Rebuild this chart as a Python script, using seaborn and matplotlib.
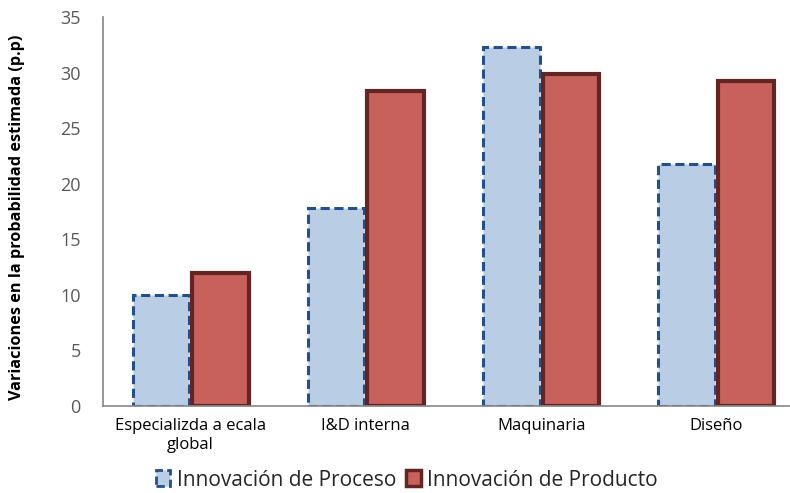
import matplotlib
matplotlib.use("Agg")
import matplotlib.pyplot as plt
import seaborn as sns
import pandas as pd
from matplotlib.patches import Patch

categorias = ["Especializda a ecala\nglobal", "I&D interna", "Maquinaria", "Diseño"]
proceso = [10.0, 17.8, 32.3, 21.8]
producto = [12.0, 28.3, 29.9, 29.2]
series = ["Innovación de Proceso", "Innovación de Producto"]
y_ticks = [0, 5, 10, 15, 20, 25, 30, 35]

df = pd.DataFrame({
    "categoria": categorias * 2,
    "valor": proceso + producto,
    "serie": [series[0]] * len(categorias) + [series[1]] * len(categorias),
})

sns.set_theme(style="white")
plt.rcParams["font.family"] = ["Open Sans", "DejaVu Sans"]

fill = {series[0]: "#B9CDE5", series[1]: "#C8605C"}
edge = {series[0]: "#24508A", series[1]: "#632523"}

fig = plt.figure(figsize=(7.9, 4.93), dpi=100)
ax = fig.add_axes([0.1304, 0.1765, 0.8696, 0.789])

sns.barplot(data=df, x="categoria", y="valor", hue="serie", order=categorias,
            hue_order=series, palette=fill, width=0.68, gap=0.05,
            saturation=1, legend=False, ax=ax)

n = len(categorias)
for i, bar in enumerate(ax.patches[:2 * n]):
    s = series[0] if i < n else series[1]
    bar.set_edgecolor(edge[s])
    if s == series[0]:
        bar.set_linewidth(2.2)
        bar.set_linestyle((0, (3, 1.5)))
    else:
        bar.set_linewidth(3)

ax.set_ylim(0, 35)
ax.set_yticks(y_ticks)
ax.set_xlim(-0.5, 3.42)
ax.tick_params(axis="both", length=0, colors="#404040")
ax.tick_params(axis="y", labelsize=13, pad=16, labelcolor="#595959")
ax.tick_params(axis="x", labelsize=12, pad=9, labelcolor="#000000")
for lbl in ax.get_xticklabels():
    lbl.set_linespacing(1.25)
ax.set_xlabel("")
ax.set_ylabel("Variaciones en la probabilidad estimada (p.p)", fontsize=11.7,
              fontweight="bold", color="#000000")
ax.yaxis.set_label_coords(-0.114, 0.485)

for side in ["top", "right"]:
    ax.spines[side].set_visible(False)
for side in ["left", "bottom"]:
    ax.spines[side].set_color("#868686")
    ax.spines[side].set_linewidth(1.2)

handles = [
    Patch(facecolor=fill[series[0]], edgecolor=edge[series[0]], linewidth=2,
          linestyle=(0, (3, 1.5))),
    Patch(facecolor=fill[series[1]], edgecolor=edge[series[1]], linewidth=2.5),
]
fig.legend(handles, series, loc="center", bbox_to_anchor=(0.515, 0.026),
           ncol=2, frameon=False, fontsize=15, handlelength=0.7,
           handleheight=0.8, handletextpad=0.3, columnspacing=0.5)

fig.savefig("out.png", dpi=100)
